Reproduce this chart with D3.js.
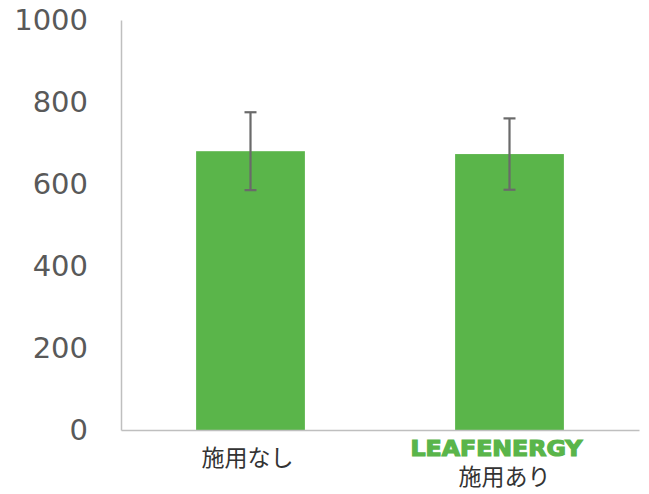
<!DOCTYPE html>
<html>
<head>
<meta charset="utf-8">
<script src="https://cdn.jsdelivr.net/npm/d3@7"></script>
<style>
  body { margin: 0; background: #fff; }
</style>
</head>
<body>
<script>
var categories = ["施用なし", "施用あり"];
var values = [680, 673];
var errors = [95, 87];
var yTicks = [0, 200, 400, 600, 800, 1000];
var brandLabel = "LEAFENERGY";

var width = 649;
var height = 494;
var margin = { top: 20, right: 10, bottom: 64, left: 121 };

// creates svg element
var svg = d3.select("body").append("svg")
            .attr("width", width)
            .attr("height", height);

var x = d3.scaleBand()
          .domain(categories)
          .range([margin.left, width - margin.right])
          .paddingInner(0.58)
          .paddingOuter(0.29);

var y = d3.scaleLinear()
          .domain([0, 1000])
          .range([height - margin.bottom, margin.top]);

// bars
svg.selectAll("rect.bar")
    .data(values)
    .enter()
    .append("rect")
    .attr("class", "bar")
    .attr("x", function(d, i) { return x(categories[i]); })
    .attr("y", function(d) { return y(d); })
    .attr("width", x.bandwidth())
    .attr("height", function(d) { return y(0) - y(d); })
    .attr("fill", "#5ab54a");

// y axis
var yAxis = svg.append("g")
    .attr("transform", "translate(" + margin.left + ",0)")
    .call(d3.axisLeft(y).tickValues(yTicks).tickSize(0).tickPadding(33).tickFormat(d3.format("d")));
yAxis.select(".domain").attr("stroke", "#bfbfbf").attr("stroke-width", 1.5);
yAxis.selectAll("text")
    .attr("font-family", "DejaVu Sans, sans-serif")
    .attr("font-size", "29px")
    .attr("fill", "#595959");

// x axis
var xAxis = svg.append("g")
    .attr("transform", "translate(0," + y(0) + ")")
    .call(d3.axisBottom(x).tickSize(0).tickFormat(""));
xAxis.select(".domain").attr("stroke", "#bfbfbf").attr("stroke-width", 1.5);

// error bars
var err = svg.selectAll("g.err")
    .data(values)
    .enter()
    .append("g")
    .attr("class", "err")
    .attr("stroke", "#6a6a6a")
    .attr("stroke-width", 2.2);
err.append("line")
    .attr("x1", function(d, i) { return x(categories[i]) + x.bandwidth() / 2; })
    .attr("x2", function(d, i) { return x(categories[i]) + x.bandwidth() / 2; })
    .attr("y1", function(d, i) { return y(d + errors[i]); })
    .attr("y2", function(d, i) { return y(d - errors[i]); });
err.selectAll("line.cap")
    .data(function(d, i) { return [[i, d + errors[i]], [i, d - errors[i]]]; })
    .enter()
    .append("line")
    .attr("class", "cap")
    .attr("x1", function(d) { return x(categories[d[0]]) + x.bandwidth() / 2 - 6; })
    .attr("x2", function(d) { return x(categories[d[0]]) + x.bandwidth() / 2 + 6; })
    .attr("y1", function(d) { return y(d[1]); })
    .attr("y2", function(d) { return y(d[1]); });

// category labels
svg.append("text")
    .text(categories[0])
    .attr("x", x(categories[0]) + x.bandwidth() / 2 - 3)
    .attr("y", 466)
    .attr("text-anchor", "middle")
    .attr("font-family", "Noto Sans CJK JP, sans-serif")
    .attr("font-size", "23px")
    .attr("fill", "#333");

svg.append("text")
    .text(brandLabel)
    .attr("x", x(categories[1]) + x.bandwidth() / 2 - 13)
    .attr("y", 456)
    .attr("text-anchor", "middle")
    .attr("font-family", "DejaVu Sans, sans-serif")
    .attr("font-weight", "bold")
    .attr("font-size", "21px")
    .attr("textLength", 172)
    .attr("lengthAdjust", "spacingAndGlyphs")
    .attr("stroke", "#5ab54a")
    .attr("stroke-width", 1.2)
    .attr("fill", "#5ab54a");

svg.append("text")
    .text(categories[1])
    .attr("x", x(categories[1]) + x.bandwidth() / 2 - 5)
    .attr("y", 485)
    .attr("text-anchor", "middle")
    .attr("font-family", "Noto Sans CJK JP, sans-serif")
    .attr("font-size", "23px")
    .attr("fill", "#333");
</script>
</body>
</html>
